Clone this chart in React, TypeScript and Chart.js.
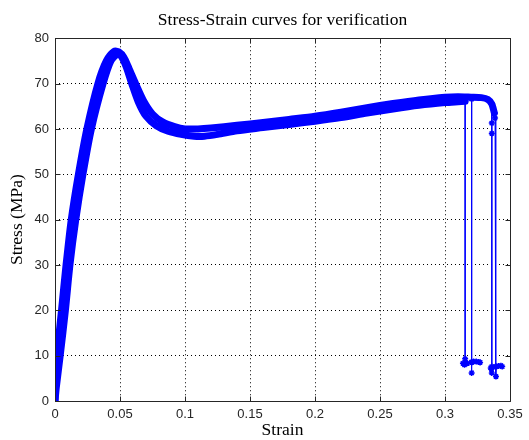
import React, { useEffect, useRef } from "react";
import { Chart, registerables } from "chart.js";

Chart.register(...registerables);

const TITLE = "Stress-Strain curves for verification";
const X_LABEL = "Strain";
const Y_LABEL = "Stress (MPa)";

const xTicks = [0, 0.05, 0.1, 0.15, 0.2, 0.25, 0.3, 0.35];
const yTicks = [0, 10, 20, 30, 40, 50, 60, 70, 80];

// Specimen 1 (upper part of the band)
const upperStrain = [0, 0, 0.0015, 0.005, 0.0085, 0.0125, 0.018, 0.0245, 0.033, 0.0395, 0.0455, 0.049, 0.053, 0.057, 0.062, 0.068, 0.075, 0.083, 0.092, 0.1, 0.11, 0.12, 0.14, 0.16, 0.18, 0.2, 0.22, 0.24, 0.26, 0.28, 0.3, 0.31, 0.32, 0.328, 0.333, 0.336, 0.338];
const upperStress = [0, 3, 10, 20, 30, 40, 50, 60, 70, 75, 77.1, 77.0, 75.8, 73.3, 70, 66.3, 63.3, 61.5, 60.5, 60.0, 60.0, 60.2, 60.8, 61.4, 62.1, 62.8, 63.7, 64.7, 65.6, 66.4, 67.0, 67.1, 67.0, 66.9, 66.5, 65.5, 63.5];

// Specimen 2 (lower part of the band)
const lowerStrain = [0, 0.001, 0.004, 0.008, 0.0115, 0.016, 0.0215, 0.028, 0.037, 0.043, 0.048, 0.051, 0.055, 0.059, 0.064, 0.07, 0.078, 0.087, 0.097, 0.107, 0.115, 0.125, 0.14, 0.16, 0.18, 0.2, 0.22, 0.24, 0.26, 0.28, 0.3, 0.31, 0.3155];
const lowerStress = [0, 3, 10, 20, 30, 40, 50, 60, 70, 75, 76.5, 76, 73.5, 70, 66, 62.8, 60.7, 59.5, 58.8, 58.4, 58.4, 58.8, 59.6, 60.3, 61.0, 61.7, 62.5, 63.5, 64.4, 65.2, 65.8, 66.0, 66.1];

// Failure tails (drops)
const tailAStrain = [0.3155, 0.3155, 0.3138, 0.3150, 0.3160, 0.3172];
const tailAStress = [66.1, 9.3, 8.3, 8.0, 8.4, 8.3];
const tailBStrain = [0.3205, 0.3205, 0.3205, 0.3205, 0.322, 0.324, 0.326, 0.327];
const tailBStress = [66.6, 8.6, 6.2, 8.5, 8.7, 8.7, 8.6, 8.5];
const tailCStrain = [0.336, 0.336, 0.336, 0.336, 0.3352, 0.336, 0.3357];
const tailCStress = [65.5, 61.3, 59.0, 7.6, 7.3, 6.2, 7.0];
const tailDStrain = [0.338, 0.3385, 0.3389, 0.3392, 0.3395, 0.341, 0.343, 0.344];
const tailDStress = [63.5, 62.4, 7.6, 5.4, 7.6, 7.7, 7.8, 7.6];

const BLUE = "#0000ff";

const toPoints = (xs: number[], ys: number[]) => xs.map((x, i) => ({ x, y: ys[i] }));

const boxTicksPlugin = {
  id: "boxTicks",
  afterDraw(chart: any) {
    const { ctx, chartArea } = chart;
    const { left, right, top, bottom } = chartArea;
    const xs = chart.scales.x;
    const ys = chart.scales.y;
    ctx.save();
    ctx.strokeStyle = "#262626";
    ctx.lineWidth = 1;
    ctx.setLineDash([]);
    const L = Math.round(left) + 0.5;
    const R = Math.round(right) + 0.5;
    const T = Math.round(top) + 0.5;
    const B = Math.round(bottom) + 0.5;
    ctx.beginPath();
    ctx.rect(L, T, R - L, B - T);
    ctx.stroke();
    const len = 5;
    ctx.beginPath();
    xTicks.forEach((v) => {
      const px = Math.round(xs.getPixelForValue(v)) + 0.5;
      ctx.moveTo(px, B);
      ctx.lineTo(px, B - len);
      ctx.moveTo(px, T);
      ctx.lineTo(px, T + len);
    });
    yTicks.forEach((v) => {
      const py = Math.round(ys.getPixelForValue(v)) + 0.5;
      ctx.moveTo(L, py);
      ctx.lineTo(L + len, py);
      ctx.moveTo(R, py);
      ctx.lineTo(R - len, py);
    });
    ctx.stroke();
    ctx.restore();
  },
};

export default function App() {
  const ref = useRef<HTMLCanvasElement | null>(null);

  useEffect(() => {
    document.body.style.margin = "0";
    const canvas = ref.current;
    if (!canvas) return;
    const tailStyle = {
      showLine: true,
      borderColor: BLUE,
      backgroundColor: BLUE,
      borderWidth: 1,
      pointStyle: "star" as const,
      pointRadius: 3,
      pointBorderWidth: 1.5,
      pointBorderColor: BLUE,
    };
    const mainStyle = {
      showLine: true,
      borderColor: BLUE,
      backgroundColor: BLUE,
      borderWidth: 7,
      pointRadius: 0,
      tension: 0.25,
      borderJoinStyle: "round" as const,
      borderCapStyle: "round" as const,
    };
    const serif = "'Liberation Serif', 'DejaVu Serif', serif";
    const chart = new Chart(canvas, {
      type: "scatter",
      data: {
        datasets: [
          { ...mainStyle, data: toPoints(upperStrain, upperStress) },
          { ...mainStyle, data: toPoints(lowerStrain, lowerStress) },
          { ...tailStyle, data: toPoints(tailAStrain, tailAStress) },
          { ...tailStyle, data: toPoints(tailBStrain, tailBStress) },
          { ...tailStyle, data: toPoints(tailCStrain, tailCStress) },
          { ...tailStyle, data: toPoints(tailDStrain, tailDStress) },
        ],
      },
      options: {
        animation: false,
        responsive: false,
        devicePixelRatio: 1,
        layout: { padding: { left: 0, right: 19, top: 0, bottom: 0 } },
        plugins: {
          legend: { display: false },
          tooltip: { enabled: false },
          title: {
            display: true,
            text: TITLE,
            fullSize: false,
            color: "#000",
            font: { family: serif, size: 17.5, weight: "normal", lineHeight: 1.1 },
            padding: { top: 11, bottom: 8 },
          },
        },
        scales: {
          x: {
            type: "linear",
            min: 0,
            max: 0.35,
            afterBuildTicks: (scale: any) => {
              scale.ticks = xTicks.map((v) => ({ value: v }));
            },
            afterFit: (scale: any) => {
              scale.height = 39;
            },
            ticks: {
              color: "#262626",
              padding: 6,
              font: { family: "'Liberation Sans', Arial, sans-serif", size: 13 },
              callback: (v: any) => String(Number(Number(v).toFixed(2))),
            },
            grid: { color: "#000", drawTicks: false, lineWidth: 1 },
            border: { display: false, dash: [1, 3] },
            title: {
              display: true,
              text: X_LABEL,
              color: "#000",
              font: { family: serif, size: 17.5, lineHeight: 1.1 },
              padding: { top: 0, bottom: 0 },
            },
          },
          y: {
            type: "linear",
            min: 0,
            max: 80,
            afterBuildTicks: (scale: any) => {
              scale.ticks = yTicks.map((v) => ({ value: v }));
            },
            afterFit: (scale: any) => {
              scale.width = 55;
            },
            ticks: {
              color: "#262626",
              padding: 6,
              font: { family: "'Liberation Sans', Arial, sans-serif", size: 13 },
            },
            grid: { color: "#000", drawTicks: false, lineWidth: 1 },
            border: { display: false, dash: [1, 3] },
            title: {
              display: true,
              text: Y_LABEL,
              color: "#000",
              font: { family: serif, size: 17.5, lineHeight: 1.1 },
              padding: { top: 8, bottom: 0 },
            },
          },
        },
      },
      plugins: [boxTicksPlugin],
    });
    return () => chart.destroy();
  }, []);

  return (
    <div style={{ width: 529, height: 440, background: "#fff" }}>
      <canvas ref={ref} width={529} height={440} style={{ display: "block" }} />
    </div>
  );
}
